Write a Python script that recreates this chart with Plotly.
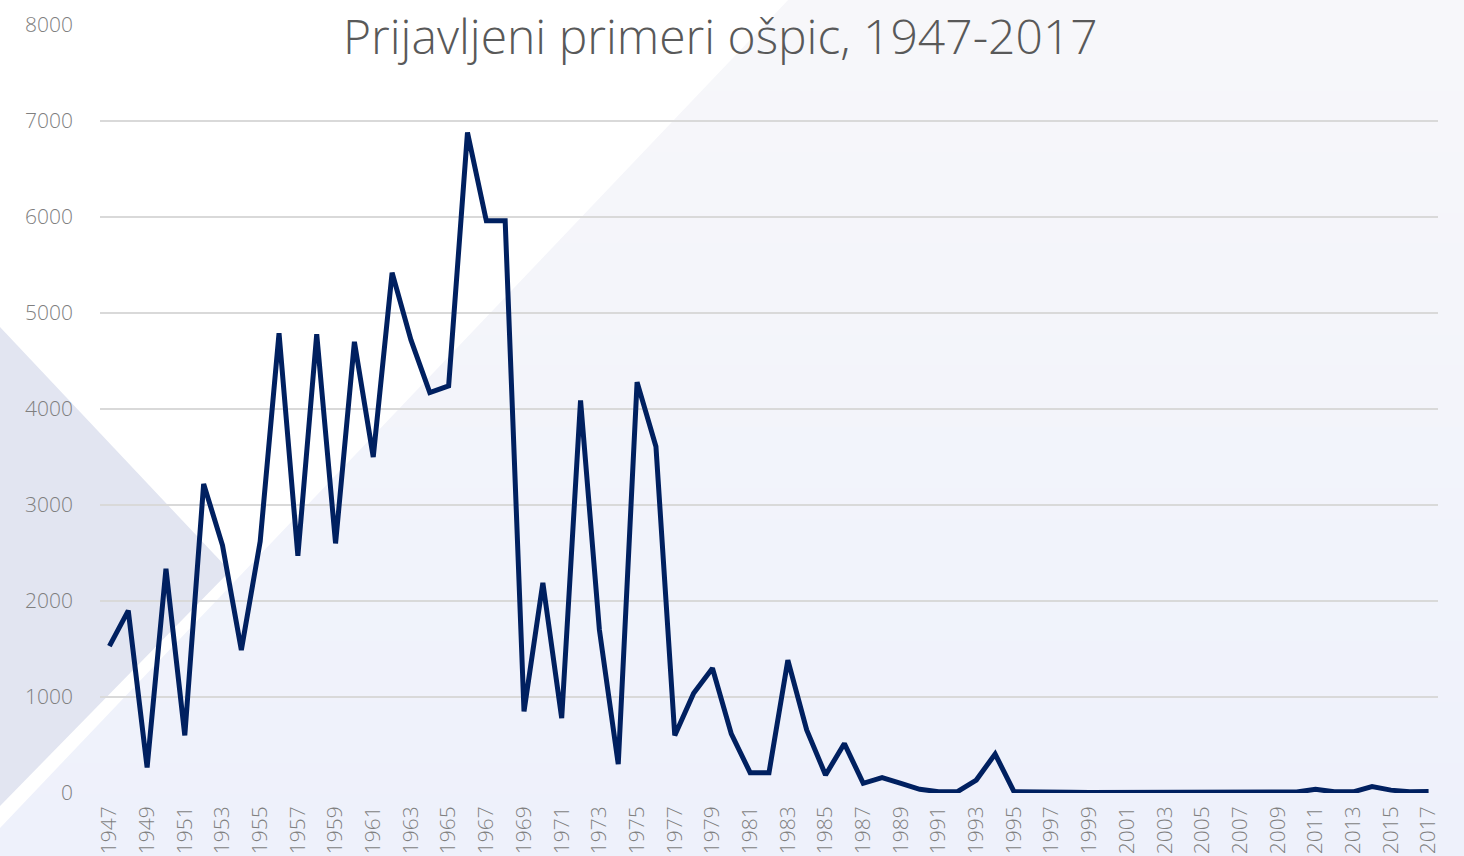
import plotly.graph_objects as go

years = list(range(1947, 2018))
cases = [
    1530, 1900, 265, 2335, 600, 3220, 2580, 1490, 2620, 4790,
    2470, 4780, 2600, 4700, 3500, 5420, 4720, 4170, 4240, 6880,
    5960, 5960, 850, 2190, 780, 4090, 1700, 300, 4280, 3610,
    600, 1040, 1300, 615, 212, 212, 1385, 656, 188, 515,
    101, 160, 101, 38, 14, 14, 135, 406, 14, 14,
    20, 8, 5, 5, 5, 5, 5, 5, 5, 5,
    5, 5, 5, 10, 38, 12, 12, 66, 30, 12,
    15,
]
tick_years = list(range(1947, 2018, 2))
y_ticks = [0, 1000, 2000, 3000, 4000, 5000, 6000, 7000, 8000]
title_text = "Prijavljeni primeri ošpic, 1947-2017"

W, H = 1464, 856
L, R, T, B = 100, 26, 25, 63
PW, PH = W - L - R, H - T - B


def px(x):
    return (x - L) / PW


def py(y):
    return (H - B - y) / PH


def path(points):
    return "M " + " L ".join(f"{px(x):.5f},{py(y):.5f}" for x, y in points) + " Z"


def lerp(c1, c2, t):
    a = [int(c1[i:i + 2], 16) for i in (1, 3, 5)]
    b = [int(c2[i:i + 2], 16) for i in (1, 3, 5)]
    return "#" + "".join(f"{round(a[k] + (b[k] - a[k]) * t):02x}" for k in range(3))


shapes = []
n = 28
for i in range(n):
    y0 = i * H / n - 1
    y1 = (i + 1) * H / n + 1
    shapes.append(dict(type="rect", xref="paper", yref="paper",
                       x0=px(-2), x1=px(W + 2), y0=py(y1), y1=py(y0),
                       fillcolor=lerp("#f7f7fa", "#eef1fb", i / (n - 1)),
                       line=dict(width=0), layer="below"))
# white diagonal region
shapes.append(dict(type="path", xref="paper", yref="paper",
                   path=path([(-2, -2), (790, -2), (-2, 830)]),
                   fillcolor="#ffffff", line=dict(width=0), layer="below"))
# darker triangle on left
shapes.append(dict(type="path", xref="paper", yref="paper",
                   path=path([(-2, 325), (230, 571), (-2, 808)]),
                   fillcolor="#e2e5f1", line=dict(width=0), layer="below"))

fig = go.Figure()
fig.add_trace(go.Scatter(
    x=years, y=cases, mode="lines",
    line=dict(color="#002060", width=5),
    hoverinfo="x+y", showlegend=False,
))

tick_font = dict(family="Open Sans", size=21, color="#7f7f7f", weight=300)

fig.update_layout(
    width=W, height=H,
    margin=dict(l=L, r=R, t=T, b=B, autoexpand=False),
    paper_bgcolor="#f3f4fa",
    plot_bgcolor="rgba(0,0,0,0)",
    shapes=shapes,
    showlegend=False,
    font=dict(family="Open Sans", color="#7f7f7f"),
    annotations=[dict(
        text=title_text, xref="paper", yref="paper",
        x=px(720), y=py(2), xanchor="center", yanchor="top",
        showarrow=False, borderpad=0,
        font=dict(family="Open Sans", size=48, color="#595959", weight=300),
    )],
)
fig.update_xaxes(
    range=[1946.5, 2017.5],
    tickmode="array", tickvals=tick_years, ticktext=[str(y) for y in tick_years],
    tickangle=-90, tickfont=tick_font, automargin=False,
    showgrid=False, zeroline=False, showline=False,
    ticks="", ticklabelstandoff=8,
)
fig.update_yaxes(
    range=[0, 8000],
    tickmode="array", tickvals=y_ticks, ticktext=[str(v) for v in y_ticks],
    tickfont=tick_font, automargin=False,
    showgrid=True, gridcolor="#d9d9d9", gridwidth=1.5,
    zeroline=False, showline=False, ticks="", ticklabelstandoff=26,
)

fig.write_html(
    "out.html",
    config={"displayModeBar": False},
    post_script="document.body.style.margin='0';document.body.style.overflow='hidden';",
)
